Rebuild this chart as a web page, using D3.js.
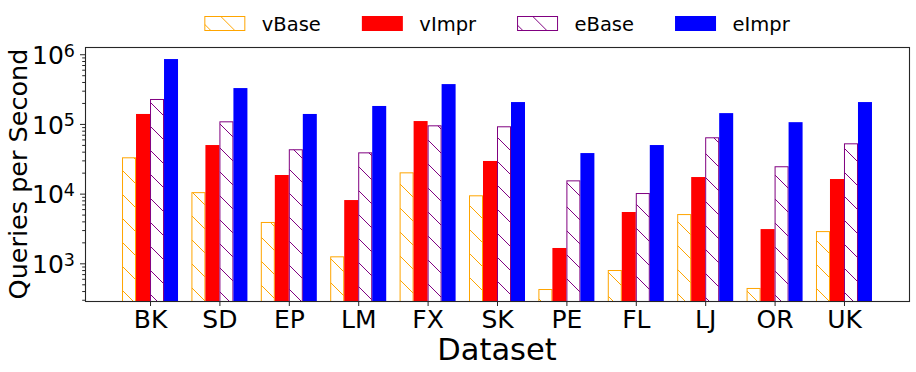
<!DOCTYPE html>
<html>
<head>
<meta charset="utf-8">
<script src="https://cdn.jsdelivr.net/npm/d3@7"></script>
<style>
  html, body { margin: 0; padding: 0; background: #fff; }
  svg { display: block; font-family: "DejaVu Sans", sans-serif; }
</style>
</head>
<body>
<svg id="chart" width="916" height="372"></svg>
<script>
// ---- data ----
const categories = ["BK", "SD", "EP", "LM", "FX", "SK", "PE", "FL", "LJ", "OR", "UK"];
const seriesNames = ["vBase", "vImpr", "eBase", "eImpr"];
const vBase = [33200, 10500, 3920, 1260, 20200, 9460, 428, 802, 5090, 443, 2900];
const vImpr = [139000, 49800, 18500, 8090, 110000, 29400, 1660, 5450, 17300, 3100, 16200];
const eBase = [228000, 109000, 43300, 39100, 95500, 92500, 15500, 10200, 64300, 24700, 52700];
const eImpr = [853000, 327000, 139000, 181000, 373000, 206000, 38200, 49800, 143000, 106000, 206000];
const yTickExps = [3, 4, 5, 6];
const xLabel = "Dataset";
const yLabel = "Queries per Second";

const seriesValues = { vBase, vImpr, eBase, eImpr };
const seriesStyle = {
  vBase: { color: "#FFA500", hatch: true },
  vImpr: { color: "#FF0000", hatch: false },
  eBase: { color: "#800080", hatch: true },
  eImpr: { color: "#0000FF", hatch: false }
};

// ---- layout ----
const plot = { left: 85, right: 909, top: 47, bottom: 301 };
const axisColor = "#262626";

const svg = d3.select("#chart");
const defs = svg.append("defs");

// hatch patterns ("\" diagonal lines)
seriesNames.forEach(name => {
  const st = seriesStyle[name];
  if (!st.hatch) return;
  const p = defs.append("pattern")
    .attr("id", "hatch-" + name)
    .attr("patternUnits", "userSpaceOnUse")
    .attr("x", 0).attr("y", 0)
    .attr("width", 24).attr("height", 24);
  p.append("rect").attr("width", 24).attr("height", 24).attr("fill", "#fff");
  p.append("path")
    .attr("d", "M-6,18 L6,30 M-2,-2 L26,26 M18,-6 L30,6")
    .attr("stroke", st.color)
    .attr("stroke-width", 1)
    .attr("fill", "none");
});

// scales
const x = d3.scalePoint().domain(categories).range([plot.left, plot.right]).padding(0.937);
const xSub = d3.scaleBand().domain(seriesNames).range([-28, 28]).padding(0);
const y = d3.scaleLog().domain([288, 1.27e6]).range([plot.bottom, plot.top]);

// clip
defs.append("clipPath").attr("id", "plotclip")
  .append("rect")
  .attr("x", plot.left).attr("y", plot.top)
  .attr("width", plot.right - plot.left).attr("height", plot.bottom - plot.top);

// bars
const barsG = svg.append("g").attr("clip-path", "url(#plotclip)");
seriesNames.forEach(name => {
  const st = seriesStyle[name];
  const vals = seriesValues[name];
  const g = barsG.append("g");
  g.selectAll("rect")
    .data(categories.map((c, i) => ({ c, v: vals[i] })))
    .join("rect")
    .attr("x", d => x(d.c) + xSub(name) + (st.hatch ? 0.5 : 0))
    .attr("y", d => y(d.v) + (st.hatch ? 0.5 : 0))
    .attr("width", xSub.bandwidth() - (st.hatch ? 1 : 0))
    .attr("height", d => plot.bottom - y(d.v) + 2)
    .attr("fill", st.hatch ? "url(#hatch-" + name + ")" : st.color)
    .attr("stroke", st.hatch ? st.color : "none")
    .attr("stroke-width", 1);
});

// axes
const xAxis = d3.axisBottom(x).tickSize(5).tickPadding(4);
const gx = svg.append("g").attr("transform", `translate(0,${plot.bottom})`).call(xAxis);
gx.select(".domain").remove();
gx.selectAll(".tick line").attr("stroke", axisColor);
gx.selectAll(".tick text")
  .attr("font-size", 25)
  .attr("font-family", "DejaVu Sans")
  .attr("fill", "#000")
  .attr("dy", null)
  .attr("y", 26.5);

// y axis: minor ticks
const minorVals = [];
for (let e = 2; e <= 6; e++) {
  for (let m = 2; m <= 9; m++) {
    const v = m * Math.pow(10, e);
    if (v >= y.domain()[0] && v <= y.domain()[1]) minorVals.push(v);
  }
}
const yMinor = d3.axisLeft(y).tickValues(minorVals).tickSize(2.8).tickFormat("");
const gyMinor = svg.append("g").attr("transform", `translate(${plot.left},0)`).call(yMinor);
gyMinor.select(".domain").remove();
gyMinor.selectAll(".tick line").attr("stroke", axisColor);

const yMajor = d3.axisLeft(y).tickValues(yTickExps.map(e => Math.pow(10, e))).tickSize(5).tickFormat("");
const gy = svg.append("g").attr("transform", `translate(${plot.left},0)`).call(yMajor);
gy.select(".domain").remove();
gy.selectAll(".tick line").attr("stroke", axisColor);
gy.selectAll(".tick").each(function(d) {
  const t = d3.select(this).append("text")
    .attr("x", -10)
    .attr("y", 9.1)
    .attr("text-anchor", "end")
    .attr("font-size", 25)
    .attr("font-family", "DejaVu Sans")
    .attr("fill", "#000");
  t.append("tspan").text("10");
  t.append("tspan").attr("font-size", 17.5).attr("dy", -7.2).text(String(Math.round(Math.log10(d))));
});

// frame
svg.append("rect")
  .attr("x", plot.left + 0.5).attr("y", plot.top + 0.5)
  .attr("width", plot.right - plot.left).attr("height", plot.bottom - plot.top)
  .attr("fill", "none").attr("stroke", axisColor).attr("stroke-width", 1.1);

// axis labels
svg.append("text")
  .attr("x", (plot.left + plot.right) / 2).attr("y", 360)
  .attr("text-anchor", "middle").attr("font-size", 30.5).attr("fill", "#000")
  .text(xLabel);
svg.append("text")
  .attr("transform", `translate(27,${(plot.top + plot.bottom) / 2}) rotate(-90)`)
  .attr("text-anchor", "middle").attr("font-size", 25.5).attr("fill", "#000")
  .text(yLabel);

// legend
const legend = svg.append("g");
const handleW = 41, handleH = 15, textPad = 16.5, colSpace = 41;
let cx = 0;
const items = [];
seriesNames.forEach(name => {
  const st = seriesStyle[name];
  const g = legend.append("g");
  g.append("rect")
    .attr("x", cx + (st.hatch ? 0.5 : 0)).attr("y", 16 + (st.hatch ? 0.5 : 0))
    .attr("width", handleW - (st.hatch ? 1 : 0)).attr("height", handleH - (st.hatch ? 1 : 0))
    .attr("fill", st.hatch ? "url(#hatch-" + name + ")" : st.color)
    .attr("stroke", st.hatch ? st.color : "none").attr("stroke-width", 1);
  const t = g.append("text")
    .attr("x", cx + handleW + textPad).attr("y", 30.5)
    .attr("font-size", 19.5).attr("fill", "#000").text(name);
  const w = t.node().getComputedTextLength();
  items.push(g);
  cx += handleW + textPad + w + colSpace;
});
const totalW = cx - colSpace;
const startX = (plot.left + plot.right) / 2 - totalW / 2;
legend.attr("transform", `translate(${startX},0)`);
// re-align hatch so pattern matches absolute coords: patterns use userSpaceOnUse in legend's coords, fine.
</script>
</body>
</html>
